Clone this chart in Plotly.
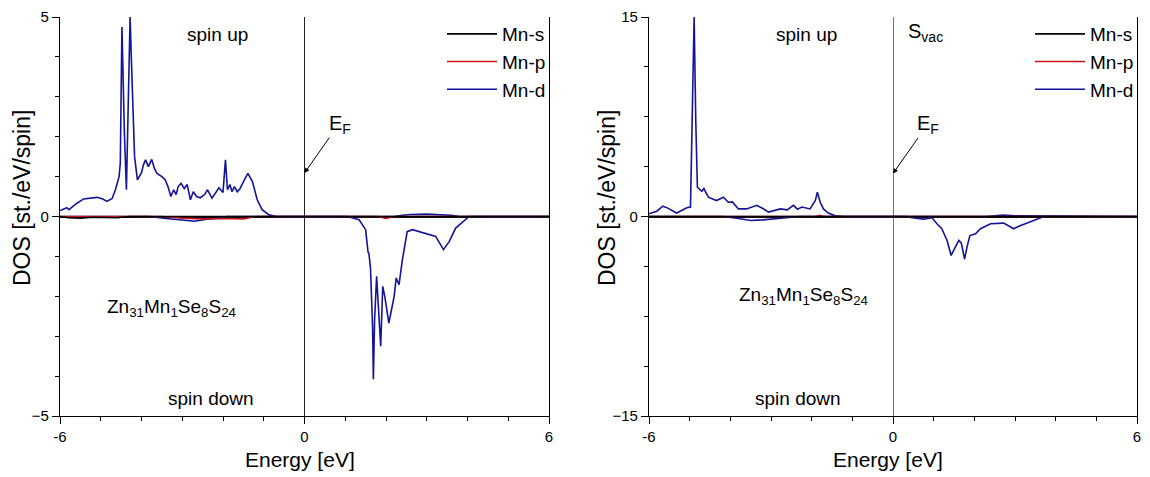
import plotly.graph_objects as go

# ---------------- data ----------------
# Left panel: Zn31Mn1Se8S24
L_d_up_E = [-6, -5.83, -5.78, -5.6, -5.42, -5.2, -5.09, -4.95, -4.85, -4.72, -4.64, -4.55, -4.52, -4.48,
            -4.45, -4.42, -4.37, -4.33, -4.28, -4.25, -4.22, -4.17, -4.1, -4.0, -3.95, -3.9, -3.83, -3.75,
            -3.68, -3.62, -3.5, -3.42, -3.35, -3.28, -3.21, -3.15, -3.1, -3.03, -2.95, -2.88, -2.8, -2.73,
            -2.65, -2.56, -2.45, -2.38, -2.27, -2.18, -2.1, -2.0, -1.94, -1.89, -1.83, -1.78, -1.72, -1.65,
            -1.58, -1.52, -1.45, -1.39, -1.28, -1.16, -1.04, -0.87, -0.7, 2.2, 2.4, 2.6, 3.0, 3.4, 3.6, 3.8, 6]
L_d_up_D = [0.15, 0.22, 0.17, 0.32, 0.44, 0.47, 0.48, 0.44, 0.38, 0.45, 0.67, 1.0, 1.34, 4.75,
            3.0, 2.1, 0.67, 2.9, 5.0, 4.0, 2.9, 1.5, 0.92, 1.1, 1.3, 1.42, 1.25, 1.43,
            1.2, 1.08, 1.0, 0.92, 0.75, 0.5, 0.67, 0.55, 0.75, 0.83, 0.7, 0.8, 0.42, 0.62,
            0.5, 0.47, 0.55, 0.67, 0.46, 0.6, 0.72, 0.6, 1.42, 0.67, 0.8, 0.62, 0.75, 0.62,
            0.7, 0.83, 0.95, 1.08, 0.88, 0.42, 0.17, 0.04, 0.0, 0.0, 0.03, 0.05, 0.06, 0.05, 0.03, 0.0, 0.0]
L_d_dn_E = [-6, -3.8, -3.4, -3.0, -2.7, -2.4, -2.1, -1.9, 1.05, 1.34, 1.5, 1.56, 1.58, 1.62, 1.67, 1.69,
            1.72, 1.77, 1.82, 1.87, 1.92, 1.97, 2.07, 2.15, 2.2, 2.25, 2.32, 2.4, 2.52, 2.65, 2.93,
            3.22, 3.41, 3.55, 3.71, 4.04, 6]
L_d_dn_D = [0, 0, -0.05, -0.08, -0.12, -0.07, -0.04, 0, 0, -0.08, -0.33, -0.9, -0.92, -1.3, -2.75, -4.08,
            -2.6, -1.5, -2.3, -3.25, -1.75, -2.0, -2.67, -2.25, -2.0, -1.54, -1.71, -1.1, -0.38, -0.33, -0.42,
            -0.5, -0.83, -0.63, -0.29, 0, 0]
L_p_E = [-6, -3.5, -3.0, -2.5, -2.0, -1.5, -1.2, 1.8, 2.0, 2.2, 6]
L_p_D = [0, 0, -0.04, -0.06, -0.05, -0.06, 0, 0, -0.05, 0, 0]
L_s_E = [-6, -5.8, -5.5, -5.2, -4.6, -4.3, -4.0, 6]
L_s_D = [0, -0.03, -0.04, -0.02, -0.03, 0, 0, 0]

# Right panel: Zn31Mn1Se8S24 with S vacancy
R_d_up_E = [-6, -5.81, -5.66, -5.55, -5.32, -5.07, -4.98, -4.94, -4.89, -4.85, -4.81, -4.7, -4.65, -4.54,
            -4.34, -4.17, -4.05, -3.95, -3.8, -3.6, -3.47, -3.35, -3.2, -3.06, -2.77, -2.6, -2.45, -2.35,
            -2.24, -2.04, -1.91, -1.86, -1.79, -1.71, -1.59, -1.42, -1.2, 2.3, 2.7, 3.0, 6]
R_d_up_D = [0.2, 0.4, 0.78, 0.65, 0.26, 0.66, 0.71, 7.5, 15, 7.2, 2.2, 1.9, 2.1, 1.45,
            1.2, 1.45, 1.07, 1.1, 0.57, 0.57, 0.71, 0.84, 0.6, 0.33, 0.57, 0.5, 0.84, 0.55,
            0.71, 0.57, 1.2, 1.82, 1.07, 0.57, 0.26, 0.05, 0, 0, 0.1, 0.05, 0]
R_d_dn_E = [-6, -4.2, -3.8, -3.5, -3.2, -2.9, -2.3, 0.3, 0.47, 0.75, 0.96, 1.08, 1.2, 1.33, 1.43, 1.51,
            1.62, 1.68, 1.76, 1.82, 1.89, 2.03, 2.15, 2.4, 2.72, 2.97, 3.14, 3.46, 3.71, 6]
R_d_dn_D = [0, 0, -0.15, -0.3, -0.25, -0.15, 0, 0, -0.1, -0.2, -0.1, -0.55, -0.92, -1.8, -2.93, -2.43,
            -1.8, -2.0, -3.2, -2.3, -1.43, -1.3, -0.92, -0.55, -0.5, -0.92, -0.67, -0.3, 0, 0]
R_p_E = [-6, -1.9, -1.8, -1.7, 6]
R_p_D = [0, 0, 0.08, 0, 0]
R_s_E = [-6, 6]
R_s_D = [0, 0]

X_TICKS = [-6, 0, 6]
L_Y_TICKS = [-5, 0, 5]
R_Y_TICKS = [-15, 0, 15]

COL_S = "#000000"
COL_P = "#c8141e"
COL_D = "#14149a"
FONT = "Arial, Liberation Sans, sans-serif"

# the page body has an 8px margin, so the figure is drawn 8px in from the window corner
OFF = 8
W, H = 1150 - OFF, 477 - OFF
def px(x):
    return (x - OFF) / W
def py(y):
    return 1 - (y - OFF) / H

fig = go.Figure()

def add_panel(xa, ya, leg, d_up, d_dn, p, s):
    fig.add_trace(go.Scatter(x=d_up[0], y=d_up[1], mode="lines", name="Mn-d", line=dict(color=COL_D, width=1.6),
                             xaxis=xa, yaxis=ya, legend=leg, legendrank=3, legendgroup=leg + "d"))
    fig.add_trace(go.Scatter(x=d_dn[0], y=d_dn[1], mode="lines", name="Mn-d", line=dict(color=COL_D, width=1.6),
                             xaxis=xa, yaxis=ya, legend=leg, showlegend=False, legendgroup=leg + "d"))
    fig.add_trace(go.Scatter(x=p[0], y=p[1], mode="lines", name="Mn-p", line=dict(color=COL_P, width=1.6),
                             xaxis=xa, yaxis=ya, legend=leg, legendrank=2))
    fig.add_trace(go.Scatter(x=s[0], y=s[1], mode="lines", name="Mn-s", line=dict(color=COL_S, width=1.6),
                             xaxis=xa, yaxis=ya, legend=leg, legendrank=1))

add_panel("x", "y", "legend", (L_d_up_E, L_d_up_D), (L_d_dn_E, L_d_dn_D), (L_p_E, L_p_D), (L_s_E, L_s_D))
add_panel("x2", "y2", "legend2", (R_d_up_E, R_d_up_D), (R_d_dn_E, R_d_dn_D), (R_p_E, R_p_D), (R_s_E, R_s_D))

ydom = [py(416), py(17)]
xcommon = dict(range=[-6, 6], tickvals=X_TICKS, ticktext=[str(v) for v in X_TICKS], ticks="outside",
               ticklen=7, tickcolor="black", showline=True, linecolor="black", linewidth=1.2,
               showgrid=False, zeroline=True, zerolinewidth=1, mirror=False, automargin=False,
               tickfont=dict(family=FONT, size=15, color="black"),
               minor=dict(dtick=1, ticks="outside", ticklen=4, tickcolor="black", showgrid=False))
ycommon = dict(ticks="outside", ticklen=7, tickcolor="black", showline=True, linecolor="black",
               linewidth=1.2, showgrid=False, zeroline=True, zerolinecolor="black", zerolinewidth=1.6,
               mirror=True, automargin=False, tickfont=dict(family=FONT, size=15, color="black"))

legcommon = dict(xanchor="right", y=py(15), yanchor="top", bgcolor="rgba(0,0,0,0)",
                 font=dict(family=FONT, size=19, color="black"), tracegroupgap=0, itemwidth=50,
                 traceorder="normal")

fig.update_layout(
    width=W, height=H, margin=dict(l=0, r=0, t=0, b=0, autoexpand=False),
    paper_bgcolor="white", plot_bgcolor="white",
    font=dict(family=FONT, color="black"),
    xaxis=dict(domain=[px(60), px(549)], anchor="y", zerolinecolor="#222222", **xcommon),
    yaxis=dict(domain=ydom, anchor="x", range=[-5, 5], tickvals=L_Y_TICKS,
               minor=dict(dtick=1, tick0=0, ticks="outside", ticklen=4, tickcolor="black", showgrid=False),
               **ycommon),
    xaxis2=dict(domain=[px(649), px(1137)], anchor="y2", zerolinecolor="#777777", **xcommon),
    yaxis2=dict(domain=ydom, anchor="x2", range=[-15, 15], tickvals=R_Y_TICKS,
                minor=dict(dtick=3.75, tick0=0, ticks="outside", ticklen=4, tickcolor="black", showgrid=False),
                **ycommon),
    legend=dict(x=px(551), **legcommon),
    legend2=dict(x=px(1139), **legcommon),
)

ann = []
def text(x, y, t, size, xref="paper", yref="paper", **kw):
    ann.append(dict(x=x, y=y, xref=xref, yref=yref, text=t, showarrow=False, xanchor="center",
                    yanchor="middle", font=dict(family=FONT, size=size, color="black"), **kw))

FORMULA = "Zn<sub>31</sub>Mn<sub>1</sub>Se<sub>8</sub>S<sub>24</sub>"
# left panel texts
text(-2.14, 4.57, "spin up", 19, "x", "y")
text(-2.3, -4.55, "spin down", 19, "x", "y")
text(-3.27, -2.3, FORMULA, 19, "x", "y")
text(0.88, 2.3, "E<sub>F</sub>", 20, "x", "y")
# right panel texts
text(-2.13, 13.7, "spin up", 19, "x2", "y2")
text(-2.33, -13.65, "spin down", 19, "x2", "y2")
text(-2.21, -6.0, FORMULA, 19, "x2", "y2")
text(0.85, 6.9, "E<sub>F</sub>", 20, "x2", "y2")
text(0.8, 13.8, "S<sub>vac</sub>", 20, "x2", "y2")
# axis titles
for xc in (300, 888):
    text(px(xc), py(459), "Energy [eV]", 21)
for xc in (22, 607):
    text(px(xc), py(198), "DOS [st./eV/spin]", 23, textangle=-90)
# E_F arrows
for xr, yr, yv in (("x", "y", 1.09), ("x2", "y2", 3.23)):
    ann.append(dict(x=0, y=yv, xref=xr, yref=yr, text="", showarrow=True, ax=26, ay=-37,
                    arrowhead=2, arrowsize=1, arrowwidth=1, arrowcolor="black"))

fig.update_layout(annotations=ann)
fig.write_html("out.html")
